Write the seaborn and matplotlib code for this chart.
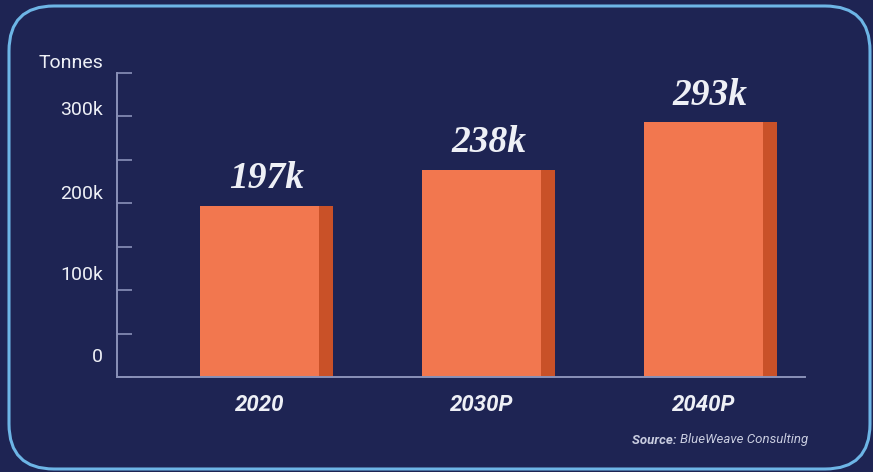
import numpy as np
import pandas as pd
import matplotlib
matplotlib.use("Agg")
import matplotlib.pyplot as plt
import matplotlib.transforms as mtransforms
from matplotlib.patches import FancyBboxPatch
import seaborn as sns

# ---- data ----
years = ["2020", "2030P", "2040P"]
tonnes = [197000, 238000, 293000]
value_labels = ["197k", "238k", "293k"]
ytick_vals = [0, 100000, 200000, 300000]
ytick_labels = ["0", "100k", "200k", "300k"]
minor_vals = [50000, 150000, 250000, 350000]

# ---- colours ----
bg = "#1e2453"
face = "#f2774f"
side = "#c95128"
axis_col = "#8a91b8"
text_col = "#eef0f6"
frame_col = "#6db5e6"

sns.set_style("dark")
plt.rcParams["font.family"] = ["Roboto", "DejaVu Sans"]

fig = plt.figure(figsize=(8.73, 4.72), dpi=100, facecolor=bg)
ax = fig.add_axes([0.134, 0.201, 0.788, 0.645])
ax.set_facecolor(bg)

df = pd.DataFrame({"year": years, "tonnes": tonnes})
bar_w = 0.536
side_w = 0.063
sns.barplot(data=df, x="year", y="tonnes", color=face, saturation=1,
            width=bar_w, ax=ax, linewidth=0)
# darker right-hand side strip for the 3D look
ax.bar(np.arange(len(years)) + bar_w / 2, df["tonnes"], width=side_w,
       align="edge", color=side, linewidth=0, zorder=2)

ax.set_xlim(-0.642, 2.457)
ax.set_ylim(0, 350000)

# value labels above the bars
for i, (v, lab) in enumerate(zip(tonnes, value_labels)):
    ax.annotate(lab, xy=(i + side_w / 2, v), xytext=(0, 7), textcoords="offset points",
                ha="center", va="bottom", fontsize=27, fontweight="bold",
                fontstyle="italic", color=text_col,
                family=["Liberation Serif", "DejaVu Serif"])

# spines
for s in ["top", "right"]:
    ax.spines[s].set_visible(False)
for s in ["left", "bottom"]:
    ax.spines[s].set_visible(True)
    ax.spines[s].set_color(axis_col)
    ax.spines[s].set_linewidth(1.4)
ax.grid(False)

# y ticks (inward) with labels sitting a bit above their ticks
ax.set_yticks(ytick_vals)
ax.set_yticklabels(ytick_labels)
ax.set_yticks(minor_vals, minor=True)
ax.tick_params(axis="y", which="both", direction="in", length=11, width=1.2,
               color=axis_col, left=True)
ax.tick_params(axis="y", which="major", pad=10, labelsize=14, labelcolor=text_col)
label_shift = [16, 12, 8, 6]
for t, dy in zip(ax.get_yticklabels(), label_shift):
    t.set_transform(t.get_transform() + mtransforms.ScaledTranslation(0, dy / 72, fig.dpi_scale_trans))

ax.tick_params(axis="x", length=0, pad=12, labelsize=16, labelcolor=text_col)
for t in ax.get_xticklabels():
    t.set_fontweight("bold")
    t.set_fontstyle("italic")
ax.set_xlabel("")
ax.set_ylabel("")

# unit label
fig.text(103 / 873, 1 - 63 / 472, "Tonnes", ha="right", va="center",
         fontsize=14, color=text_col)

# source line
src = fig.text(808 / 873, 1 - 440 / 472, "BlueWeave Consulting", ha="right",
               va="center", fontsize=9.5, fontstyle="italic", color="#c9cde0")
fig.canvas.draw()
ax.annotate("Source: ", xy=(0, 0), xycoords=src, ha="right", va="bottom",
            fontsize=9.5, fontstyle="italic", fontweight="bold", color="#c9cde0",
            annotation_clip=False)

# rounded frame
frame = FancyBboxPatch((0.09, 0.03), 8.61, 4.63, boxstyle="round,pad=0,rounding_size=0.45",
                       transform=fig.dpi_scale_trans, facecolor="none",
                       edgecolor=frame_col, linewidth=2.2)
fig.patches.append(frame)

fig.savefig("out.png", dpi=100, facecolor=bg)
